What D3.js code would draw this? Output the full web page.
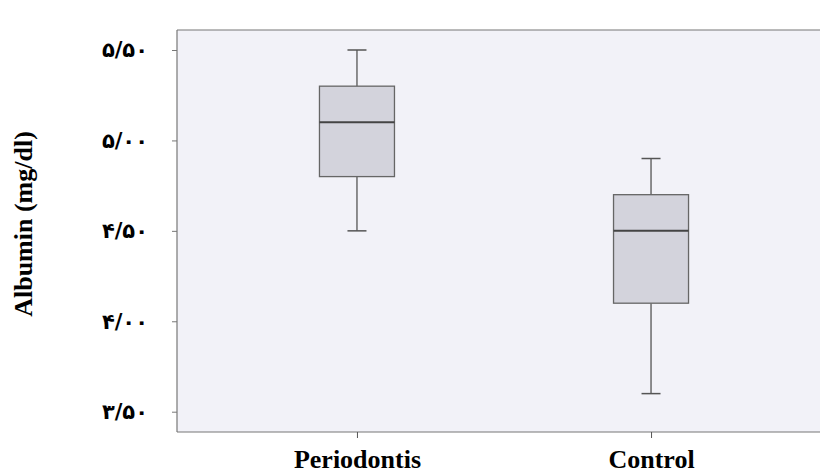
<!DOCTYPE html>
<html><head><meta charset="utf-8">
<script src="https://cdn.jsdelivr.net/npm/d3@7"></script>
<style>html,body{margin:0;padding:0;background:#fff;}svg{display:block;}</style>
</head><body>
<script>
const categories = ["Periodontis", "Control"];
const whiskerLow = [4.50, 3.60];
const q1 = [4.80, 4.10];
const median = [5.10, 4.50];
const q3 = [5.30, 4.70];
const whiskerHigh = [5.50, 4.90];
const yTicks = [3.5, 4.0, 4.5, 5.0, 5.5];
const yTickLabels = ["۳/۵۰", "۴/۰۰", "۴/۵۰", "۵/۰۰", "۵/۵۰"];
const yTitle = "Albumin (mg/dl)";

const W = 820, H = 475;
const svg = d3.select("body").append("svg").attr("width", W).attr("height", H);
const mLeft = 177, mTop = 30, mRight = 831, mBottom = 432;

const y = d3.scaleLinear().domain([3.5, 5.5]).range([411.7, 50]);
const x = d3.scalePoint().domain(categories).range([mLeft, mRight]).padding(0.612);

// plot background
svg.append("rect").attr("x", mLeft).attr("y", mTop).attr("width", W - mLeft).attr("height", mBottom - mTop)
  .attr("fill", "#f2f2f8");
// top border
svg.append("line").attr("x1", mLeft).attr("x2", W).attr("y1", mTop).attr("y2", mTop)
  .attr("stroke", "#777").attr("stroke-width", 1.2);

// y axis
const yAxis = d3.axisLeft(y).tickValues(yTicks).tickSize(5).tickFormat((d, i) => yTickLabels[i]);
const gy = svg.append("g").attr("transform", `translate(${mLeft},0)`).call(yAxis);
gy.select(".domain").attr("d", `M0,${mTop}V${mBottom}`).attr("stroke", "#777").attr("stroke-width", 1.2);
gy.selectAll(".tick line").attr("stroke", "#777");
gy.selectAll(".tick text").attr("x", -29).attr("font-family", "'DejaVu Sans', sans-serif")
  .attr("font-weight", "bold").attr("font-size", 21).attr("fill", "#000").attr("direction", "ltr");

// x axis
const xAxis = d3.axisBottom(x).tickSize(6).tickSizeOuter(0);
const gx = svg.append("g").attr("transform", `translate(0,${mBottom})`).call(xAxis);
gx.select(".domain").attr("d", `M${mLeft},0H${W}`).attr("stroke", "#777").attr("stroke-width", 1.2);
gx.selectAll(".tick line").attr("stroke", "#555");
gx.selectAll(".tick text").attr("y", 36).attr("dy", "0").attr("font-family", "'Liberation Serif', serif")
  .attr("font-weight", "bold").attr("font-size", 26).attr("fill", "#000");

// boxes
const bw = 75, cap = 19;
const g = svg.append("g");
categories.forEach((c, i) => {
  const cx = x(c);
  g.append("line").attr("x1", cx).attr("x2", cx).attr("y1", y(whiskerHigh[i])).attr("y2", y(q3[i]))
    .attr("stroke", "#555").attr("stroke-width", 1.3);
  g.append("line").attr("x1", cx).attr("x2", cx).attr("y1", y(q1[i])).attr("y2", y(whiskerLow[i]))
    .attr("stroke", "#555").attr("stroke-width", 1.3);
  g.append("line").attr("x1", cx - cap / 2).attr("x2", cx + cap / 2).attr("y1", y(whiskerHigh[i])).attr("y2", y(whiskerHigh[i]))
    .attr("stroke", "#555").attr("stroke-width", 1.5);
  g.append("line").attr("x1", cx - cap / 2).attr("x2", cx + cap / 2).attr("y1", y(whiskerLow[i])).attr("y2", y(whiskerLow[i]))
    .attr("stroke", "#555").attr("stroke-width", 1.5);
  g.append("rect").attr("x", cx - bw / 2).attr("width", bw).attr("y", y(q3[i])).attr("height", y(q1[i]) - y(q3[i]))
    .attr("fill", "#d3d3dc").attr("stroke", "#666").attr("stroke-width", 1.3);
  g.append("line").attr("x1", cx - bw / 2).attr("x2", cx + bw / 2).attr("y1", y(median[i])).attr("y2", y(median[i]))
    .attr("stroke", "#444").attr("stroke-width", 2);
});

// y title
svg.append("text").attr("transform", `translate(32,224) rotate(-90)`).attr("text-anchor", "middle")
  .attr("font-family", "'Liberation Serif', serif").attr("font-weight", "bold").attr("font-size", 26)
  .attr("fill", "#000").text(yTitle);
</script>
</body></html>
